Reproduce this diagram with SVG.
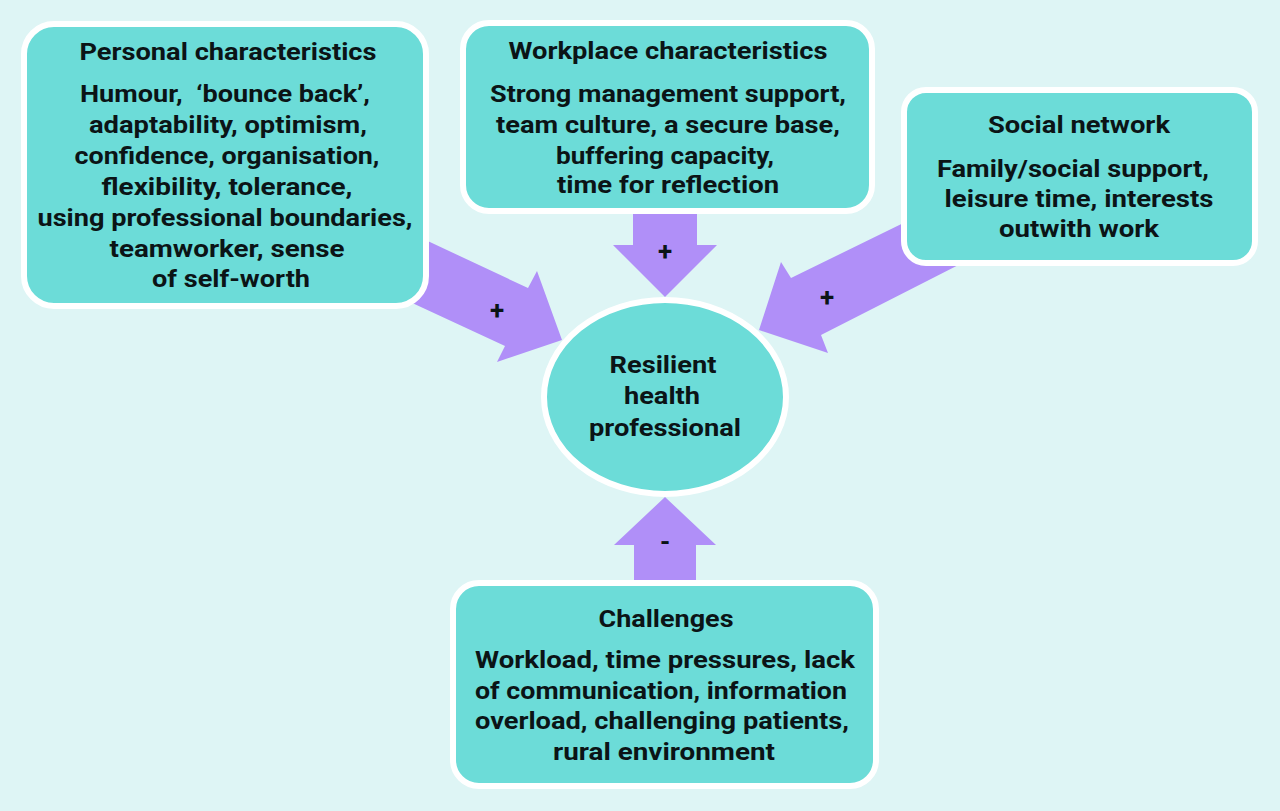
<svg xmlns="http://www.w3.org/2000/svg" width="1280" height="811" viewBox="0 0 1280 811">
<style>
.bg{fill:#def5f5}
.box{fill:#6cdcd8;stroke:#ffffff;stroke-width:6}
.arrow{fill:#b08ff8}
text{font-family:Roboto,"Liberation Sans",sans-serif;font-weight:bold;font-size:24px;fill:#0b1416;text-anchor:middle}
.sign{font-size:26px}
</style>
<rect class="bg" x="0" y="0" width="1280" height="811"/>
<g id="connectors">
  <polygon class="arrow" points="400,228 528,288 537,271 562,340 497,362 505,346 395,295"/>
  <polygon class="arrow" points="633,200 697,200 697,245 717,245 665,297 613,245 633,245"/>
  <polygon class="arrow" points="930,210 791,278 781,262 759,330 828,353 821,335 980,254"/>
  <polygon class="arrow" points="634,595 634,545 614,545 665,497 716,545 696,545 696,595"/>
</g>
<g id="personal">
  <rect class="box" x="24" y="24" width="402" height="282" rx="30"/>
  <text x="228" y="60" textLength="297" lengthAdjust="spacingAndGlyphs">Personal characteristics</text>
  <text x="225" y="102" textLength="290" lengthAdjust="spacingAndGlyphs" xml:space="preserve" style="white-space:pre">Humour,  ‘bounce back’,</text>
  <text x="228" y="133" textLength="278" lengthAdjust="spacingAndGlyphs">adaptability, optimism,</text>
  <text x="227" y="164" textLength="305" lengthAdjust="spacingAndGlyphs">confidence, organisation,</text>
  <text x="227" y="195" textLength="251" lengthAdjust="spacingAndGlyphs">flexibility, tolerance,</text>
  <text x="225" y="226" textLength="375" lengthAdjust="spacingAndGlyphs">using professional boundaries,</text>
  <text x="227" y="257" textLength="235" lengthAdjust="spacingAndGlyphs">teamworker, sense</text>
  <text x="231" y="287" textLength="158" lengthAdjust="spacingAndGlyphs">of self-worth</text>
</g>
<g id="workplace">
  <rect class="box" x="463" y="23" width="409" height="188" rx="26"/>
  <text x="668" y="59" textLength="319" lengthAdjust="spacingAndGlyphs">Workplace characteristics</text>
  <text x="668" y="102" textLength="356" lengthAdjust="spacingAndGlyphs">Strong management support,</text>
  <text x="668" y="133" textLength="344" lengthAdjust="spacingAndGlyphs">team culture, a secure base,</text>
  <text x="665" y="164" textLength="218" lengthAdjust="spacingAndGlyphs">buffering capacity,</text>
  <text x="668" y="193" textLength="222" lengthAdjust="spacingAndGlyphs">time for reflection</text>
</g>
<g id="social">
  <rect class="box" x="904" y="90" width="351" height="173" rx="22"/>
  <text x="1079" y="133" textLength="182" lengthAdjust="spacingAndGlyphs">Social network</text>
  <text x="1073" y="177" textLength="272" lengthAdjust="spacingAndGlyphs">Family/social support,</text>
  <text x="1079" y="207" textLength="269" lengthAdjust="spacingAndGlyphs">leisure time, interests</text>
  <text x="1079" y="237" textLength="160" lengthAdjust="spacingAndGlyphs">outwith work</text>
</g>
<g id="resilient">
  <ellipse class="box" cx="665" cy="397" rx="121" ry="97"/>
  <text x="663" y="373" textLength="107" lengthAdjust="spacingAndGlyphs">Resilient</text>
  <text x="662" y="404" textLength="76" lengthAdjust="spacingAndGlyphs">health</text>
  <text x="665" y="436" textLength="152" lengthAdjust="spacingAndGlyphs">professional</text>
</g>
<g id="challenges">
  <rect class="box" x="453" y="583" width="423" height="203" rx="26"/>
  <text x="666" y="627" textLength="135" lengthAdjust="spacingAndGlyphs">Challenges</text>
  <text x="665" y="668" textLength="380" lengthAdjust="spacingAndGlyphs">Workload, time pressures, lack</text>
  <text x="661" y="699" textLength="372" lengthAdjust="spacingAndGlyphs">of communication, information</text>
  <text x="662" y="729" textLength="374" lengthAdjust="spacingAndGlyphs">overload, challenging patients,</text>
  <text x="664" y="760" textLength="222" lengthAdjust="spacingAndGlyphs">rural environment</text>
</g>
<g id="signs">
  <text class="sign" x="497" y="319">+</text>
  <text class="sign" x="665" y="260">+</text>
  <text class="sign" x="827" y="306">+</text>
  <text class="sign" x="665" y="551">-</text>
</g>
</svg>
